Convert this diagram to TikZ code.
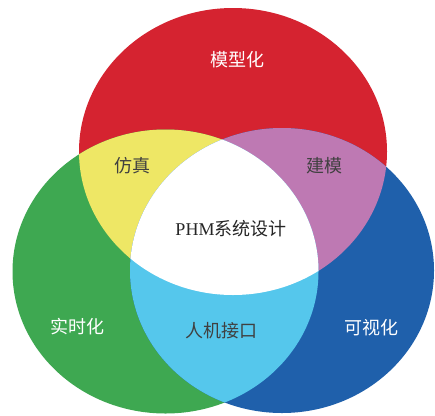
\documentclass[tikz,border=0pt]{standalone}
\usepackage{fontspec}
\setmainfont{Liberation Serif}
\newfontfamily\cjk{Noto Sans CJK SC}

\definecolor{vred}{RGB}{213,35,48}
\definecolor{vgreen}{RGB}{62,168,81}
\definecolor{vblue}{RGB}{31,96,171}
\definecolor{vyellow}{RGB}{238,231,101}
\definecolor{vpurple}{RGB}{190,121,179}
\definecolor{vcyan}{RGB}{85,199,236}

\newcommand{\redset}{(233,151.5) ellipse [x radius=154, y radius=143.5]}
\newcommand{\greenset}{(165.5,271.5) ellipse [x radius=153, y radius=142]}
\newcommand{\blueset}{(282,270.5) ellipse [x radius=152, y radius=142.5]}

\begin{document}
\begin{tikzpicture}[
    x=1pt, y=-1pt,
    area/.style={font=\fontsize{18}{20}\selectfont\cjk},
    outer/.style={area, text=white},
    inner/.style={area, text=black!75}
]
\fill[white] (0,0) rectangle (435,415);
\useasboundingbox (0,0) rectangle (435,415);

% Three sets
\fill[vred] \redset;
\fill[vgreen] \greenset;
\fill[vblue] \blueset;

% Pairwise overlaps
\begin{scope}
\clip \redset;
\fill[vyellow] \greenset;
\end{scope}
\begin{scope}
\clip \redset;
\fill[vpurple] \blueset;
\end{scope}
\begin{scope}
\clip \greenset;
\fill[vcyan] \blueset;
\end{scope}

% Common part
\begin{scope}
\clip \redset;
\clip \greenset;
\fill[white] \blueset;
\end{scope}

% Labels
\node[outer] (modeling) at (237,60) {模型化};
\node[outer] (realtime) at (77,327) {实时化};
\node[outer] (visual) at (371,328) {可视化};
\node[inner] (simulation) at (132,166) {仿真};
\node[inner] (building) at (324,166) {建模};
\node[inner] (hmi) at (221,331) {人机接口};
\node[inner, text=black!85] (design) at (231,229) {\rmfamily PHM\cjk 系统设计};

\end{tikzpicture}
\end{document}
